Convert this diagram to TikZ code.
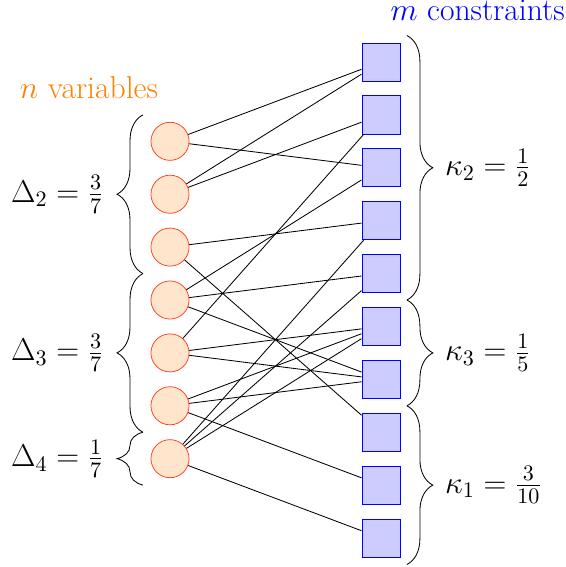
\RequirePackage{fix-cm}
\documentclass[tikz,border=0pt]{standalone}
\usepackage{fontspec}
\usetikzlibrary{decorations.pathreplacing}
\definecolor{varborder}{RGB}{255,60,30}
\tikzset{
  varnode/.style={circle, draw=varborder, fill=orange!20, minimum size=0.72cm, inner sep=0pt},
  connode/.style={rectangle, draw=blue, fill=blue!20, minimum size=0.72cm, inner sep=0pt},
  edge/.style={black, line width=0.45pt},
  bracestyle/.style={decorate, decoration={brace, amplitude=0.49cm}, line width=0.45pt},
  lbl/.style={font=\fontsize{17}{20}\selectfont}
}
\begin{document}
\begin{tikzpicture}
\useasboundingbox (0,0) rectangle (10.70,-10.72);
% variables
\foreach \i in {1,...,7} {
  \node[varnode] (v\i) at (3.214, {-2.672-(\i-1)}) {};
}
% constraints
\foreach \k in {1,...,10} {
  \node[connode] (c\k) at (7.202, {-1.172-(\k-1)}) {};
}
% edges
\foreach \a/\b in {1/1,1/3,2/1,2/2,3/4,3/8,4/3,4/5,4/7,5/2,5/6,5/7,6/6,6/7,6/9,7/4,7/5,7/6,7/10} {
  \draw[edge] (v\a) -- (c\b);
}
% left braces
\coordinate (lb1) at (2.703,-5.172);
\coordinate (lt1) at (2.703,-2.172);
\coordinate (lb2) at (2.703,-8.172);
\coordinate (lt2) at (2.703,-5.172);
\coordinate (lb3) at (2.703,-9.172);
\coordinate (lt3) at (2.703,-8.172);
\draw[bracestyle] (lb1) -- (lt1);
\draw[bracestyle] (lb2) -- (lt2);
\draw[bracestyle] (lb3) -- (lt3);
\node[lbl, anchor=east] (d2) at (2.08,-3.672) {$\Delta_2 = \frac{3}{7}$};
\node[lbl, anchor=east] (d3) at (2.08,-6.672) {$\Delta_3 = \frac{3}{7}$};
\node[lbl, anchor=east] (d4) at (2.08,-8.672) {$\Delta_4 = \frac{1}{7}$};
% right braces
\coordinate (rt1) at (7.694,-0.672);
\coordinate (rb1) at (7.694,-5.672);
\coordinate (rt2) at (7.694,-5.672);
\coordinate (rb2) at (7.694,-7.672);
\coordinate (rt3) at (7.694,-7.672);
\coordinate (rb3) at (7.694,-10.672);
\draw[bracestyle] (rt1) -- (rb1);
\draw[bracestyle] (rt2) -- (rb2);
\draw[bracestyle] (rt3) -- (rb3);
\node[lbl, anchor=west] (k2) at (8.29,-3.172) {$\kappa_2 = \frac{1}{2}$};
\node[lbl, anchor=west] (k3) at (8.29,-6.672) {$\kappa_3 = \frac{1}{5}$};
\node[lbl, anchor=west] (k1) at (8.29,-9.172) {$\kappa_1 = \frac{3}{10}$};
% titles
\node[lbl, text=orange, anchor=base] (nv) at (1.68,-1.853) {$n$ variables};
\node[lbl, text=blue, anchor=base, inner sep=0pt] (mc) at (9.03,-0.39) {$m$ constraints};
\end{tikzpicture}
\end{document}
